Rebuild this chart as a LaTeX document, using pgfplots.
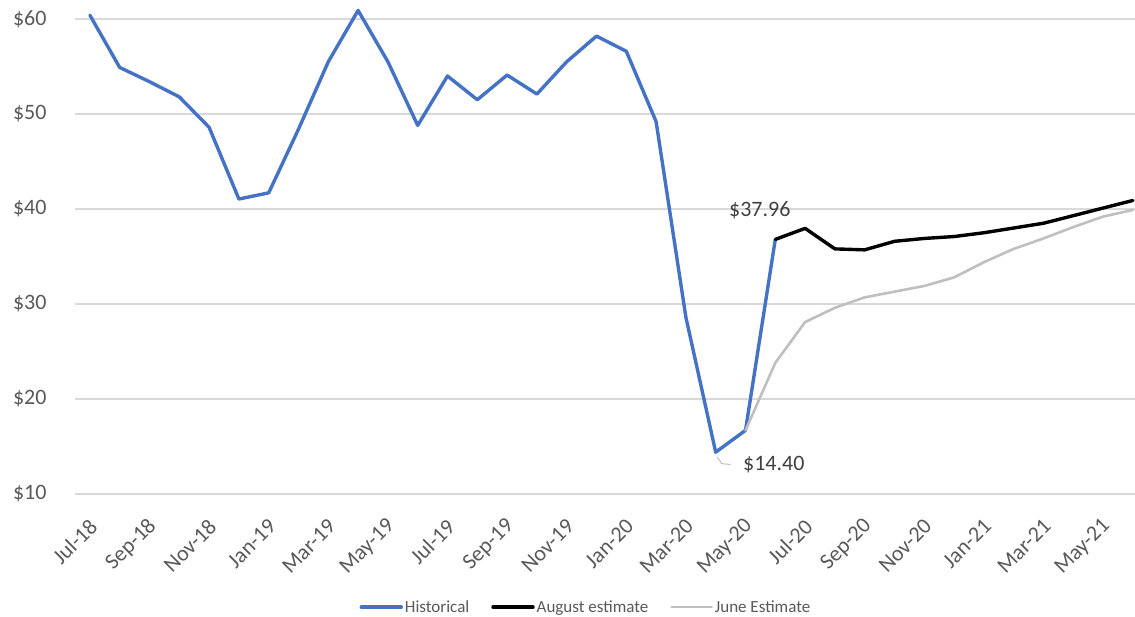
\documentclass[border=0pt]{standalone}
\usepackage{pgfplots}
\pgfplotsset{compat=1.18}
\usepackage{fontspec}
\setmainfont{Carlito}
\definecolor{histblue}{RGB}{68,114,196}
\definecolor{junegrey}{RGB}{191,191,191}
\definecolor{gridgrey}{RGB}{217,217,217}
\definecolor{labgrey}{RGB}{89,89,89}
\definecolor{datagrey}{RGB}{64,64,64}
\begin{document}
\begin{tikzpicture}
\path[use as bounding box] (-75bp,-123bp) rectangle (1060bp,494bp);
\begin{axis}[
  at={(0,0)}, anchor=south west,
  scale only axis, width=1060bp, height=494bp,
  xmin=-0.5, xmax=35.07, ymin=10, ymax=62,
  axis line style={draw=none},
  tick style={draw=none},
  ymajorgrids, grid style={gridgrey, line width=1.3bp},
  ytick={10,20,30,40,50,60},
  yticklabels={\$10,\$20,\$30,\$40,\$50,\$60},
  xtick={0,2,...,34},
  xticklabels={Jul-18,Sep-18,Nov-18,Jan-19,Mar-19,May-19,Jul-19,Sep-19,Nov-19,Jan-20,Mar-20,May-20,Jul-20,Sep-20,Nov-20,Jan-21,Mar-21,May-21},
  yticklabel style={font=\fontsize{22bp}{26bp}\selectfont, text=labgrey, xshift=-25bp},
  xticklabel style={font=\fontsize{22bp}{26bp}\selectfont, text=labgrey, xshift=6bp, yshift=-26.6bp, rotate=45, anchor=east},
  legend style={at={(0.482,-0.229)}, anchor=center, draw=none, font=\fontsize{17bp}{20bp}\selectfont, text=labgrey, legend columns=3, /tikz/every even column/.append style={column sep=20bp}},
  legend image code/.code={\draw[#1] (0bp,0bp) -- (40bp,0bp);},
  every axis plot/.append style={line join=round, line cap=round},
]
\addplot[histblue, line width=3.4bp] coordinates {
(0,60.4) (1,54.9) (2,53.4) (3,51.8) (4,48.6) (5,41.05) (6,41.7) (7,48.4) (8,55.5) (9,60.9)
(10,55.5) (11,48.8) (12,54.0) (13,51.5) (14,54.1) (15,52.1) (16,55.5) (17,58.2) (18,56.6) (19,49.2)
(20,28.6) (21,14.40) (22,16.7) (23,36.8)};
\addlegendentry{Historical}
\addplot[black, line width=3.4bp] coordinates {
(23,36.8) (24,37.96) (25,35.8) (26,35.7) (27,36.6) (28,36.9) (29,37.1) (30,37.5) (31,38.0) (32,38.5) (33,39.3) (34,40.1) (35,40.9)};
\addlegendentry{August estimate}
\addplot[junegrey, line width=2.6bp] coordinates {
(22,16.7) (23,23.8) (24,28.1) (25,29.6) (26,30.7) (27,31.3) (28,31.9) (29,32.8) (30,34.4) (31,35.8) (32,36.9) (33,38.1) (34,39.2) (35,39.9)};
\addlegendentry{June Estimate}
\draw[junegrey, line width=1bp] (axis cs:21.05,13.9) -- (axis cs:21.2,13.2) -- (axis cs:21.5,13.1);
\node[text=datagrey, font=\fontsize{22bp}{26bp}\selectfont] at (axis cs:22.48,39.9) {\$37.96};
\node[text=datagrey, font=\fontsize{22bp}{26bp}\selectfont] at (axis cs:22.95,13.05) {\$14.40};
\end{axis}
\end{tikzpicture}
\end{document}
